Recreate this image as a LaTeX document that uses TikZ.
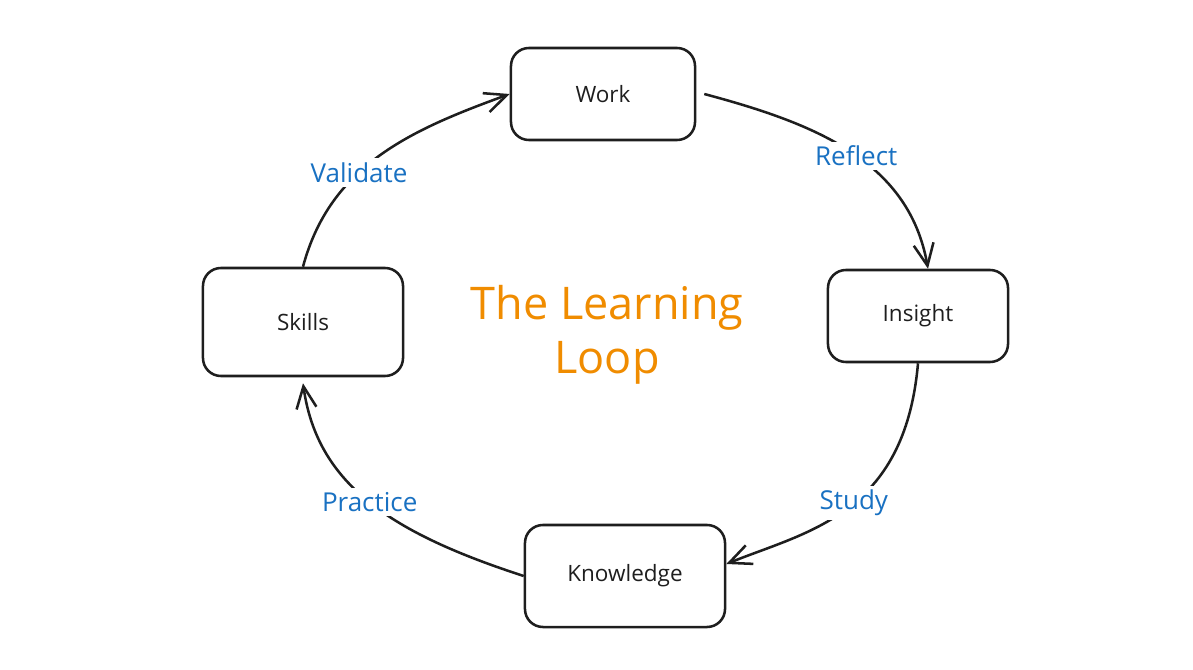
\documentclass[tikz,border=0pt]{standalone}
\usepackage{fontspec}
\setmainfont{Open Sans}
\usetikzlibrary{arrows.meta}
\definecolor{ink}{HTML}{1E1E1E}
\definecolor{cueblue}{HTML}{1971C2}
\definecolor{looporange}{HTML}{F08C00}

\begin{document}
\begin{tikzpicture}[x=0.025cm, y=-0.025cm, >={Straight Barb[length=0.55cm,width=0.5cm]}, line width=1.8pt,
    stage/.style={draw=ink, rounded corners=0.45cm, minimum width=4.6cm, minimum height=2.3cm, text=ink, font=\fontsize{16}{19}\selectfont},
    cue/.style={fill=white, text=cueblue, inner sep=3pt, font=\fontsize{18.5}{22}\selectfont}]
        \useasboundingbox (0,0) rectangle (1193,670);
        \node[stage] (W) at (603,94) {Work};
        \node[stage, minimum width=4.5cm] (I) at (918,316) {Insight};
        \node[stage, minimum width=5cm, minimum height=2.55cm] (K) at (625,576) {Knowledge};
        \node[stage, minimum width=5cm, minimum height=2.7cm] (S) at (303,322) {Skills};
        \node[text=looporange, align=center, font=\fontsize{32}{38}\selectfont] (T) at (607,335) {The Learning\\Loop};
        \draw[->, ink] (S.north) to[out=75, in=200] node[cue, pos=0.4] {Validate} (W.west);
        \draw[->, ink] ([xshift=0.2cm]W.east) to[out=-15, in=100] node[cue, pos=0.53] {Reflect} ([xshift=0.25cm]I.north);
        \draw[->, ink] (I.south) to[out=-95, in=22, out looseness=1.4, in looseness=0.8] node[cue, pos=0.47] {Study} ([yshift=0.3cm]K.east);
        \draw[->, ink] (K.west) to[out=162, in=-82, out looseness=1.2, in looseness=0.9] node[cue, pos=0.5] {Practice} ([yshift=-0.15cm]S.south);
    \end{tikzpicture}
\end{document}
